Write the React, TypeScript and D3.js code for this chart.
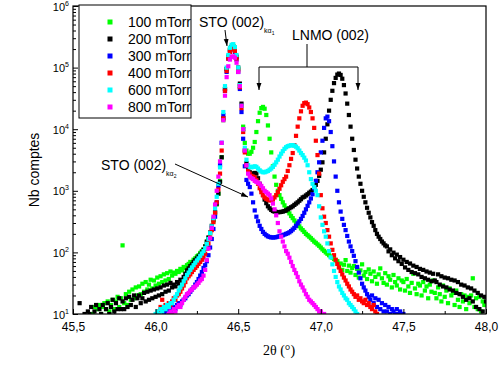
import React, { useRef, useEffect } from 'react';
import * as d3 from 'd3';

// 2theta sampling step of the scans (degrees)
const STEP = 0.01;

const seriesLabels = ['100 mTorr', '200 mTorr', '300 mTorr', '400 mTorr', '600 mTorr', '800 mTorr'];
const seriesColors = ['#00ff00', '#000000', '#0000ff', '#ff0000', '#00ffff', '#ff00ff'];
// first 2theta of each scan
const seriesStarts = [45.62, 45.54, 46.05, 46.02, 46.0, 46.08];

// counts, one value per STEP
const counts100 = [
  10, 13, 9, 12, 14, 10, 13, 15,
  12, 16, 11, 14, 17, 12, 16, 19, 13, 18,
  130, 15, 21, 14, 23, 17, 25, 18, 27, 20,
  28, 21, 31, 23, 33, 25, 30, 36, 26, 35,
  29, 39, 31, 41, 33, 44, 35, 46, 37, 49,
  42, 47, 45, 50, 48, 54, 51, 58, 56, 62,
  65, 70, 68, 76, 80, 86, 90, 98, 105, 112,
  125, 145, 170, 205, 250, 320, 430, 600, 900, 1450,
  3500, 14000, 45000, 95000, 150000, 195000, 220000, 225000, 200000, 150000,
  95000, 50000, 24000, 11000, 6000, 4500, 4000, 4000, 4300, 5000,
  6200, 9000, 13500, 18500, 22000, 23000, 21500, 17000, 11500, 7000,
  4200, 2500, 1700, 1250, 1000, 850, 740, 650, 580, 520,
  470, 430, 390, 360, 330, 305, 285, 265, 245, 230,
  215, 200, 190, 180, 170, 160, 150, 143, 135, 128,
  120, 112, 106, 100, 95, 90, 86, 82, 78, 74,
  72, 58, 66, 52, 63, 75, 50, 61, 47, 56,
  60, 43, 54, 39, 51, 64, 42, 48, 37, 53,
  45, 34, 49, 40, 31, 44, 55, 38, 32, 46,
  30, 41, 36, 27, 43, 33, 29, 38, 25, 35,
  33, 24, 37, 28, 22, 32, 45, 26, 21, 31,
  29, 20, 33, 24, 28, 18, 30, 23, 35, 22,
  18, 27, 21, 16, 29, 19, 24, 15, 26, 20,
  22, 14, 24, 17, 13, 21, 16, 20, 12, 19,
  15, 20, 38, 13, 18, 12, 19, 11, 16, 14,
  14,
];

const counts200 = [
  15, 8, 9, 10, 9, 11,
  10, 13, 8, 11, 14, 9, 12, 10, 14, 9,
  12, 15, 10, 13, 17, 11, 15, 12, 18, 12,
  16, 12, 18, 13, 19, 14, 17, 20, 13, 18,
  20, 15, 18, 22, 16, 23, 17, 24, 18, 25,
  19, 26, 20, 27, 21, 29, 23, 30, 24, 32,
  27, 30, 28, 33, 31, 36, 34, 40, 45, 51,
  55, 60, 64, 70, 75, 80, 86, 92, 100, 110,
  125, 150, 175, 210, 270, 340, 450, 620, 900, 1400,
  3500, 15000, 45000, 95000, 150000, 195000, 215000, 220000, 195000, 150000,
  100000, 55000, 26000, 10000, 4500, 2800, 2300, 2000, 1900, 1900,
  1950, 1900, 1600, 1300, 1050, 850, 720, 630, 560, 520,
  490, 470, 460, 455, 450, 450, 455, 460, 470, 480,
  500, 520, 540, 560, 590, 620, 650, 690, 730, 780,
  800, 840, 880, 930, 970, 1030, 1120, 1250, 1450, 1750,
  2200, 2900, 4200, 7000, 12000, 20000, 30000, 42000, 56000, 68000,
  77000, 80000, 76000, 66000, 52000, 38000, 26000, 17000, 11000, 7000,
  4600, 3200, 2300, 1700, 1300, 1000, 800, 650, 530, 440,
  370, 310, 270, 230, 200, 180, 165, 150, 140, 130,
  125, 104, 112, 90, 99, 80, 92, 72, 84, 65,
  76, 57, 70, 52, 66, 48, 61, 46, 58, 44,
  54, 40, 52, 38, 49, 36, 47, 34, 45, 35,
  33, 44, 30, 41, 28, 39, 27, 38, 25, 36,
  24, 35, 22, 33, 21, 30, 19, 29, 17, 27,
  18, 26, 16, 24, 13, 22, 12, 20, 11, 19,
  16,
];

const counts300 = [
  10, 11, 9, 12, 11,
  12, 13, 12, 14, 15, 14, 16, 17, 18, 20,
  21, 23, 25, 27, 30, 33, 37, 42, 48, 56,
  62, 72, 90, 120, 165, 240, 380, 650, 1200, 2600,
  6000, 17000, 42000, 85000, 140000, 180000, 200000, 200000, 180000, 135000,
  85000, 45000, 19000, 7000, 2500, 1500, 1300, 1150, 900, 650,
  480, 380, 320, 270, 240, 215, 200, 190, 182, 178,
  175, 175, 175, 177, 180, 183, 187, 190, 195, 200,
  205, 212, 222, 235, 250, 270, 295, 320, 350, 390,
  440, 500, 570, 650, 750, 880, 1100, 1450, 2000, 2900,
  4200, 6500, 10500, 15000, 16000, 13500, 9000, 5300, 3000, 1700,
  1000, 650, 460, 350, 280, 230, 185, 150, 125, 105,
  88, 72, 58, 47, 38, 31, 27, 24, 21, 19,
  17, 20, 15, 18, 13, 17, 12, 15, 11, 14,
  11, 13, 10, 12, 11, 10, 12, 10, 11, 10,
  10,
];

const counts400 = [
  11, 13, 17, 12, 14, 13, 15, 14,
  16, 18, 17, 20, 21, 23, 26, 29, 33, 38,
  41, 44, 48, 52, 56, 60, 65, 70, 76, 83,
  95, 115, 140, 175, 230, 310, 440, 650, 1050, 1900,
  4500, 15000, 42000, 88000, 140000, 180000, 200000, 200000, 185000, 140000,
  90000, 48000, 22000, 9000, 4200, 2600, 2100, 1900, 1750, 1700,
  1650, 1500, 1300, 1100, 950, 850, 780, 740, 720, 700,
  700, 720, 780, 850, 950, 1080, 1230, 1400, 1550, 1700,
  2100, 2600, 3300, 4100, 5500, 7800, 11000, 15000, 19500, 24000,
  26500, 27000, 25500, 22500, 19000, 15000, 10500, 6500, 3800, 1900,
  850, 520, 380, 300, 230, 180, 140, 110, 90, 76,
  65, 57, 50, 44, 39, 35, 31, 28, 25, 23,
  21, 19, 20, 17, 18, 16, 15, 17, 14, 15,
  13, 12, 14, 11, 10,
];

const counts600 = [
  10, 11, 10, 12, 11, 13, 12, 14, 13, 15,
  15, 17, 19, 21, 24, 27, 30, 34, 38, 43,
  47, 52, 57, 62, 68, 74, 80, 88, 96, 105,
  118, 138, 165, 205, 265, 360, 520, 800, 1300, 2400,
  6000, 19000, 50000, 100000, 160000, 210000, 235000, 240000, 215000, 160000,
  100000, 52000, 24000, 10000, 5000, 3200, 2600, 2450, 2400, 2450,
  2500, 2450, 2300, 2150, 2050, 2000, 2000, 2050, 2100, 2200,
  2300, 2450, 2650, 2900, 3200, 3600, 4000, 4400, 4800, 5100,
  5300, 5400, 5500, 5500, 5400, 5200, 4900, 4500, 4100, 3800,
  3450, 3100, 2600, 2000, 1550, 1300, 1150, 1000, 850, 560,
  370, 280, 220, 180, 140, 105, 83, 64, 50, 40,
  33, 28, 25, 22, 20, 18, 17, 15, 14, 13,
  12, 11, 10,
];

const counts800 = [
  10, 11,
  10, 12, 11, 13, 14, 13, 15, 17, 19, 21,
  22, 24, 25, 27, 28, 30, 32, 35, 37, 42,
  52, 75, 115, 170, 250, 380, 600, 1000, 1700, 3000,
  6000, 14000, 35000, 70000, 105000, 135000, 150000, 152000, 145000, 120000,
  85000, 50000, 24000, 10000, 4500, 2600, 1900, 1700, 1600, 1550,
  1450, 1400, 1350, 1300, 1200, 1100, 1000, 950, 900, 850,
  750, 620, 500, 400, 300, 220, 180, 150, 125, 105,
  95, 82, 70, 60, 52, 46, 40, 34, 30, 27,
  24, 21, 19, 17, 16, 15, 14, 13, 12, 11,
  11, 10, 10,
];

const seriesCounts = [counts100, counts200, counts300, counts400, counts600, counts800];

const xTicks = [45.5, 46.0, 46.5, 47.0, 47.5, 48.0];
const xTickLabels = ['45,5', '46,0', '46,5', '47,0', '47,5', '48,0'];
const xMinorTicks = [45.75, 46.25, 46.75, 47.25, 47.75];
const yTicks = [1e1, 1e2, 1e3, 1e4, 1e5, 1e6];
const yTickExponents = ['1', '2', '3', '4', '5', '6'];

const SANS = 'Arial, "Liberation Sans", sans-serif';
const SERIF = '"Liberation Serif", "DejaVu Serif", serif';

const App = () => {
  const ref = useRef<SVGSVGElement>(null);

  useEffect(() => {
    const svg = d3.select(ref.current);
    svg.selectAll('*').remove();

    const left = 73, right = 486, top = 6, bottom = 314;
    const x = d3.scaleLinear().domain([45.5, 48]).range([left, right]);
    const y = d3.scaleLog().domain([10, 1e6]).range([bottom, top]);

    const defs = svg.append('defs');
    defs.append('clipPath').attr('id', 'plot-clip')
      .append('rect').attr('x', left).attr('y', top)
      .attr('width', right - left).attr('height', bottom - top);
    defs.append('clipPath').attr('id', 'legend-clip')
      .append('rect').attr('x', 79).attr('y', 5).attr('width', 112).attr('height', 113);
    defs.append('marker')
      .attr('id', 'arrow')
      .attr('viewBox', '0 0 10 10')
      .attr('refX', 10).attr('refY', 5)
      .attr('markerWidth', 7).attr('markerHeight', 7)
      .attr('orient', 'auto')
      .append('path').attr('d', 'M0,1.5L10,5L0,8.5z').attr('fill', '#000');

    // --- data points ---
    const marks = svg.append('g').attr('clip-path', 'url(#plot-clip)');
    seriesCounts.forEach((counts, s) => {
      const pts = counts.map((c, i) => ({ t: seriesStarts[s] + i * STEP, c }));
      marks.append('g')
        .selectAll('rect')
        .data(pts)
        .enter()
        .append('rect')
        .attr('x', d => x(d.t) - 2.1)
        .attr('y', d => y(d.c) - 2.1)
        .attr('width', 4.2)
        .attr('height', 4.2)
        .attr('fill', seriesColors[s]);
    });

    // --- axes (ticks pointing inward) ---
    const xAxis = svg.append('g').attr('transform', `translate(0,${bottom})`);
    xAxis.call(d3.axisBottom(x).tickValues(xTicks).tickSize(-5).tickPadding(8)
      .tickFormat((d, i) => xTickLabels[i]))
      .call(g => g.select('.domain').remove());
    xAxis.selectAll('text').style('font-family', SANS).style('font-size', '12px').attr('fill', '#000');
    svg.append('g').attr('transform', `translate(0,${bottom})`)
      .call(d3.axisBottom(x).tickValues(xMinorTicks).tickSize(-3).tickFormat(() => ''))
      .call(g => g.select('.domain').remove());

    const yMinor: number[] = [];
    yTicks.slice(0, -1).forEach(t => d3.range(2, 10).forEach(k => yMinor.push(t * k)));
    svg.append('g').attr('transform', `translate(${left},0)`)
      .call(d3.axisLeft(y).tickValues(yTicks).tickSize(-5).tickFormat(() => ''))
      .call(g => g.select('.domain').remove());
    svg.append('g').attr('transform', `translate(${left},0)`)
      .call(d3.axisLeft(y).tickValues(yMinor).tickSize(-3).tickFormat(() => ''))
      .call(g => g.select('.domain').remove());

    const yLabels = svg.append('g').style('font-family', SANS).attr('fill', '#000');
    yTicks.forEach((t, i) => {
      const txt = yLabels.append('text')
        .attr('x', 69).attr('y', y(t) + 4.5)
        .attr('text-anchor', 'end')
        .style('font-size', '11px');
      txt.append('tspan').text('10');
      txt.append('tspan').attr('dy', -5).style('font-size', '7px').text(yTickExponents[i]);
    });

    // frame
    svg.append('rect')
      .attr('x', left).attr('y', top)
      .attr('width', right - left).attr('height', bottom - top)
      .attr('fill', 'none').attr('stroke', '#000').attr('stroke-width', 1.2);

    // axis titles
    svg.append('text')
      .attr('transform', `translate(38.5,170) rotate(-90)`)
      .attr('text-anchor', 'middle')
      .style('font-family', SANS).style('font-size', '14px')
      .text('Nb comptes');
    svg.append('text')
      .attr('x', 279).attr('y', 355)
      .attr('text-anchor', 'middle')
      .style('font-family', SERIF).style('font-size', '14px')
      .text('2\u03b8 (\u00b0)');

    // --- legend ---
    const legend = svg.append('g');
    legend.append('rect')
      .attr('x', 79).attr('y', 5).attr('width', 112).attr('height', 113)
      .attr('fill', '#fff').attr('stroke', '#000').attr('stroke-width', 1);
    const items = legend.append('g').attr('clip-path', 'url(#legend-clip)');
    seriesLabels.forEach((lab, i) => {
      const cy = 22 + i * 17;
      items.append('rect')
        .attr('x', 107.5).attr('y', cy - 2.5).attr('width', 5).attr('height', 5)
        .attr('fill', seriesColors[i]);
      items.append('text')
        .attr('x', 128).attr('y', cy + 5)
        .style('font-family', SANS).style('font-size', '14px')
        .text(lab);
    });

    // --- annotations ---
    const ann = svg.append('g').style('font-family', SANS).attr('fill', '#000');
    const line = (x1: number, y1: number, x2: number, y2: number, arrow: boolean) => {
      const l = ann.append('line')
        .attr('x1', x1).attr('y1', y1).attr('x2', x2).attr('y2', y2)
        .attr('stroke', '#000').attr('stroke-width', 1);
      if (arrow) l.attr('marker-end', 'url(#arrow)');
    };
    const stoLabel = (x0: number, yb: number, idx: string) => {
      const t = ann.append('text').attr('x', x0).attr('y', yb).style('font-size', '14px');
      t.append('tspan').text('STO (002)');
      t.append('tspan').attr('dy', 6).style('font-size', '7px').text('k\u03b1');
      t.append('tspan').attr('dy', 2).style('font-size', '5px').text(idx);
    };
    stoLabel(199, 27, '1');
    line(225, 30, 227, 46, true);

    ann.append('text').attr('x', 292).attr('y', 40).style('font-size', '14px').text('LNMO (002)');
    line(307, 44, 307, 67, false);
    line(259, 67, 358, 67, false);
    line(259, 67, 259, 90, true);
    line(358, 67, 358, 90, true);

    stoLabel(101, 170, '2');
    line(175, 164, 248, 197, true);
  }, []);

  return (
    <svg
      ref={ref}
      width={504}
      height={373}
      style={{ position: 'absolute', left: 0, top: 0, background: '#fff' }}
    />
  );
};

export default App;
